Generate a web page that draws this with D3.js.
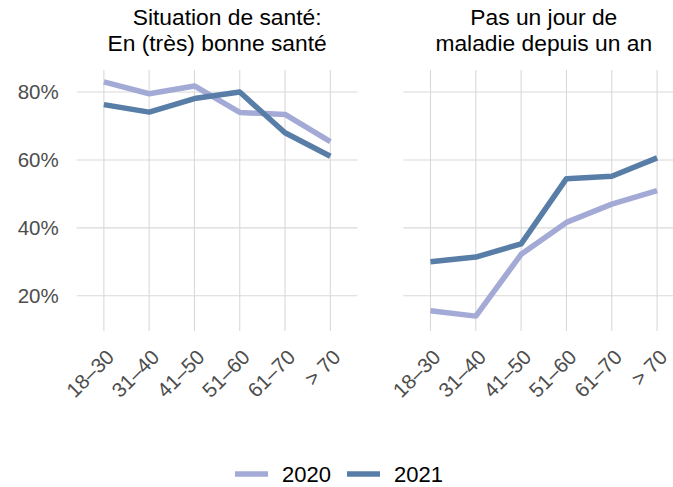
<!DOCTYPE html>
<html lang="fr">
    <head>
        <meta charset="UTF-8" />
        <title>Santé par âge</title>
        <script src="https://d3js.org/d3.v7.min.js"></script>
        <style>
            body {
                margin: 0;
                padding: 0;
                background: #fff;
                font-family: 'Liberation Sans', Arial, sans-serif;
            }
            svg {
                display: block;
            }
            .grid line {
                stroke: #d9d9d9;
                stroke-width: 1.1px;
            }
            .tick-label {
                fill: #4d4d4d;
                font-size: 20.5px;
            }
            .title {
                fill: #000;
                font-size: 22.8px;
            }
            .legend-label {
                fill: #000;
                font-size: 22px;
            }
            .series {
                fill: none;
                stroke-width: 5.5px;
                stroke-linejoin: round;
            }
        </style>
    </head>
    <body>
        <svg id="chart" width="673" height="487"></svg>

        <script>
            const ageGroups = ['18–30', '31–40', '41–50', '51–60', '61–70', '> 70'];
            const years = ['2020', '2021'];
            const yearColors = ['#a4aad6', '#587ea7'];
            const yTicks = [20, 40, 60, 80];

            // Situation de santé : en (très) bonne santé
            const health2020 = [83, 79.5, 81.8, 74, 73.4, 65.4];
            const health2021 = [76.3, 74.1, 78.1, 80, 68, 61.1];

            // Pas un jour de maladie depuis un an
            const noSick2020 = [15.6, 14, 32.2, 41.6, 47, 51];
            const noSick2021 = [30, 31.4, 35.3, 54.5, 55.2, 60.6];

            const panels = [
                { title: ['Situation de santé:', 'En (très) bonne santé'], titleShift: [10, 0], series: [health2020, health2021], left: 76.7, right: 357.5, showY: true },
                { title: ['Pas un jour de', 'maladie depuis un an'], titleShift: [0, 0], series: [noSick2020, noSick2021], left: 403.3, right: 684.3, showY: false },
            ];

            const svg = d3.select('#chart');
            const panelTop = 70;
            const panelBottom = 328;

            const y = d3.scaleLinear().domain([10.5, 86.5]).range([panelBottom, panelTop]);

            panels.forEach((p) => {
                const x = d3.scalePoint().domain(ageGroups).range([p.left, p.right]).padding(0.6);
                const g = svg.append('g');

                const grid = g.append('g').attr('class', 'grid');
                grid.selectAll('.hline')
                    .data(yTicks)
                    .join('line')
                    .attr('x1', p.left)
                    .attr('x2', p.right)
                    .attr('y1', (d) => y(d))
                    .attr('y2', (d) => y(d));
                grid.selectAll('.vline')
                    .data(ageGroups)
                    .join('line')
                    .attr('x1', (d) => x(d))
                    .attr('x2', (d) => x(d))
                    .attr('y1', panelTop)
                    .attr('y2', panelBottom + 3);

                if (p.showY) {
                    g.selectAll('.ylab')
                        .data(yTicks)
                        .join('text')
                        .attr('class', 'tick-label')
                        .attr('x', p.left - 18)
                        .attr('y', (d) => y(d))
                        .attr('dy', '0.36em')
                        .attr('text-anchor', 'end')
                        .text((d) => d + '%');
                }

                g.selectAll('.xlab')
                    .data(ageGroups)
                    .join('text')
                    .attr('class', 'tick-label')
                    .attr('text-anchor', 'end')
                    .attr('dy', '0.72em')
                    .attr('transform', (d) => `translate(${x(d) + 1},${panelBottom + 20}) rotate(-45)`)
                    .text((d) => d);

                const line = d3
                    .line()
                    .x((d, i) => x(ageGroups[i]))
                    .y((d) => y(d));

                p.series.forEach((s, i) => {
                    g.append('path')
                        .datum(s)
                        .attr('class', 'series')
                        .attr('stroke', yearColors[i])
                        .attr('d', line);
                });

                // two-line title
                const cx = (p.left + p.right) / 2;
                g.append('text')
                    .attr('class', 'title')
                    .attr('text-anchor', 'middle')
                    .selectAll('tspan')
                    .data(p.title)
                    .join('tspan')
                    .attr('x', (d, i) => cx + p.titleShift[i])
                    .attr('y', (d, i) => 25 + i * 25.6)
                    .text((d) => d);
            });

            // legend
            const legend = svg.append('g');
            const keyX = [235, 347];
            years.forEach((yr, i) => {
                legend.append('line')
                    .attr('x1', keyX[i])
                    .attr('x2', keyX[i] + 33)
                    .attr('y1', 474)
                    .attr('y2', 474)
                    .attr('stroke', yearColors[i])
                    .attr('stroke-width', 5.5);
                legend.append('text')
                    .attr('class', 'legend-label')
                    .attr('x', keyX[i] + 47)
                    .attr('y', 474)
                    .attr('dy', '0.36em')
                    .text(yr);
            });
        </script>
    </body>
</html>
